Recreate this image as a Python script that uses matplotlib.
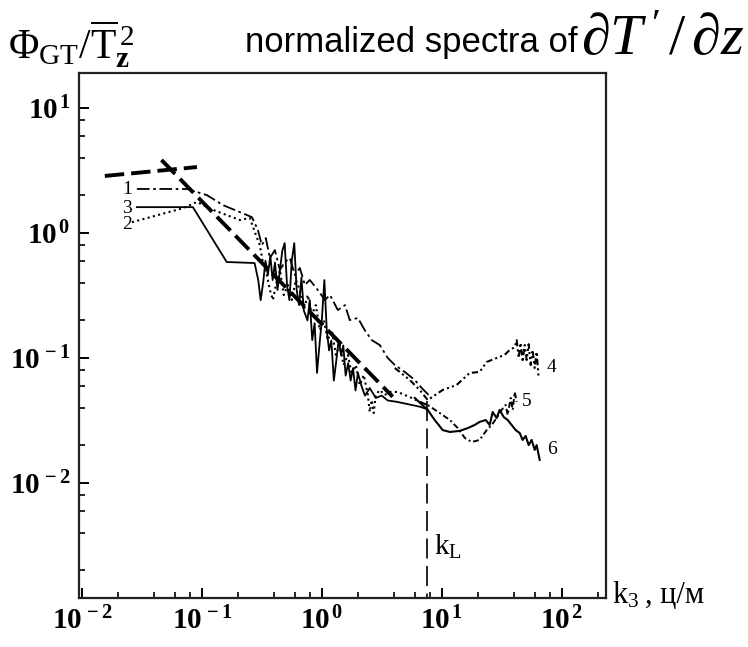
import matplotlib
matplotlib.use("Agg")
import matplotlib.pyplot as plt
from matplotlib.ticker import LogLocator, FixedLocator, FixedFormatter, NullFormatter

plt.rcParams.update({
    'mathtext.fontset': 'custom',
    'mathtext.rm': 'Liberation Serif',
    'mathtext.it': 'Liberation Serif:italic',
    'mathtext.bf': 'Liberation Serif:bold',
    'font.family': ['Liberation Serif', 'DejaVu Serif'],
})

# ---------------- data ----------------
c1_k = [0.0287, 0.075, 0.110, 0.150, 0.207, 0.261, 0.293, 0.316, 0.341, 0.369, 0.406, 0.447,
        0.492, 0.541, 0.596, 0.656, 0.722, 0.794, 0.926, 1.06, 1.17, 1.36, 1.56, 1.71, 2.0,
        2.28, 2.61, 3.04, 3.55, 4.06, 4.92, 5.96, 6.81, 8.25]
c1_phi = [2.25, 2.25, 2.01, 1.67, 1.47, 1.34, 1.06, 0.80, 0.91, 0.63, 0.73, 0.506,
          0.586, 0.63, 0.461, 0.525, 0.384, 0.421, 0.35, 0.291, 0.319, 0.242, 0.265, 0.201, 0.209,
          0.167, 0.139, 0.127, 0.100, 0.0879, 0.0773, 0.0667, 0.0575, 0.0479]

c2_k = [0.0261, 0.0695, 0.0909, 0.124, 0.207, 0.251, 0.282, 0.304, 0.322, 0.341, 0.369, 0.391,
        0.414, 0.447, 0.482, 0.521, 0.562, 0.607, 0.656, 0.708, 0.764, 0.825, 0.891, 0.962,
        1.04, 1.12, 1.21, 1.31, 1.41, 1.52, 1.65, 1.78, 1.92, 2.07, 2.24, 2.42, 2.51, 2.61,
        2.71, 2.82, 3.04, 3.35, 3.69, 4.3, 4.92, 5.62, 6.56, 7.64]
c2_phi = [1.22, 1.58, 1.77, 1.53, 1.27, 1.32, 0.964, 0.80, 0.586, 0.506, 0.35, 0.291,
          0.384, 0.506, 0.319, 0.384, 0.291, 0.421, 0.35, 0.242, 0.319, 0.221, 0.265, 0.167,
          0.201, 0.139, 0.167, 0.106, 0.127, 0.0879, 0.106, 0.0731, 0.0879, 0.0608, 0.0731,
          0.0506, 0.037, 0.0461, 0.0363, 0.0506, 0.0555, 0.0506, 0.0535, 0.0535, 0.0506,
          0.0479, 0.0445, 0.0421]

c3_k = [0.0287, 0.0841, 0.161, 0.275, 0.295, 0.309, 0.324, 0.339, 0.355, 0.372, 0.389, 0.407,
        0.427, 0.447, 0.468, 0.490, 0.513, 0.537, 0.562, 0.589, 0.617, 0.646, 0.676, 0.708,
        0.759, 0.794, 0.832, 0.871, 0.912, 0.955, 1.0, 1.05, 1.10, 1.15, 1.20, 1.26, 1.32,
        1.38, 1.45, 1.51, 1.58, 1.66, 1.74, 1.82, 1.91, 2.0, 2.14, 2.29, 2.51, 2.82, 3.16,
        3.55, 4.17, 5.25, 6.61, 7.59]
c3_phi = [1.61, 1.61, 0.586, 0.575, 0.42, 0.29, 0.40, 0.60, 0.46, 0.66, 0.42, 0.58,
          0.35, 0.50, 0.72, 0.83, 0.38, 0.29, 0.60, 0.83, 0.35, 0.265, 0.44, 0.24,
          0.20, 0.29, 0.139, 0.19, 0.076, 0.126, 0.20, 0.42, 0.166, 0.115, 0.138, 0.066, 0.095,
          0.138, 0.105, 0.126, 0.0724, 0.091, 0.066, 0.083, 0.055, 0.076, 0.060, 0.050, 0.0575,
          0.0479, 0.050, 0.0457, 0.0447, 0.0427, 0.0407, 0.0389]

c4_k = [4.06, 5.41, 6.56, 7.64, 10.2, 13.3, 17.1, 20.7, 23.7, 28.7, 33.5, 36.9, 40.6, 42.2,
        43.8, 45.5, 47.3, 49.2, 51.1, 53.1, 55.2, 57.3, 59.6, 61.9, 64.3]
c4_phi = [0.0832, 0.0667, 0.0555, 0.0461, 0.0555, 0.0608, 0.0759, 0.0773, 0.0929, 0.100,
          0.106, 0.116, 0.122, 0.139, 0.100, 0.132, 0.0929, 0.127, 0.0964, 0.129, 0.0879,
          0.116, 0.0832, 0.112, 0.0692]

c5_k = [6.56, 7.64, 9.62, 11.7, 13.6, 15.6, 17.8, 20.7, 23.7, 26.1, 28.7, 31.6, 34.1, 35.5,
        37.6, 39.1, 40.6, 42.2]
c5_phi = [0.0445, 0.0421, 0.0363, 0.0319, 0.0275, 0.0229, 0.0213, 0.0221, 0.0265, 0.0291,
          0.0331, 0.0384, 0.0421, 0.035, 0.0479, 0.0384, 0.0535, 0.0445]

c6_k = [5.96, 7.64, 8.74, 10.2, 11.7, 14.1, 16.5, 18.8, 20.7, 23.3, 25.1, 26.6, 28.7, 30.4,
        32.9, 35.5, 38.3, 41.4, 44.7, 47.3, 50.1, 53.1, 56.2, 59.6, 61.9, 65.6]
c6_phi = [0.0479, 0.0384, 0.0319, 0.0265, 0.0256, 0.0261, 0.0275, 0.0291, 0.0308, 0.0319,
          0.0291, 0.037, 0.0331, 0.0384, 0.0337, 0.0319, 0.0291, 0.0265, 0.0251, 0.0221,
          0.0238, 0.0201, 0.0221, 0.0184, 0.0201, 0.0153]

fit_flat_k = [0.0155, 0.091]
fit_flat_phi = [2.86, 3.37]
fit_slope_k = [0.046, 3.9]
fit_slope_phi = [3.84, 0.049]
kL_value = 7.6
kL_phi = [0.045, 0.0012]

x_ticks = [1e-2, 1e-1, 1e0, 1e1, 1e2]
x_labels = [r'$\mathbf{10^{\,-2}}$', r'$\mathbf{10^{\,-1}}$', r'$\mathbf{10^{\,0}}$',
            r'$\mathbf{10^{\,1}}$', r'$\mathbf{10^{\,2}}$']
y_ticks = [1e-2, 1e-1, 1e0, 1e1]
y_labels = [r'$\mathbf{10^{\,-2}}$', r'$\mathbf{10^{\,-1}}$', r'$\mathbf{10^{\,0}}$',
            r'$\mathbf{10^{\,1}}$']

# ---------------- figure ----------------
W, H = 748, 647
fig = plt.figure(figsize=(W / 100, H / 100), dpi=100)
ax = fig.add_axes([79 / W, 1 - 598 / H, (606 - 79) / W, (598 - 73) / H])
ax.set_xscale('log')
ax.set_yscale('log')
ax.set_xlim(10 ** -2.025, 10 ** 2.37)
ax.set_ylim(10 ** -2.92, 10 ** 1.28)

lw = 1.3
ax.plot(c1_k, c1_phi, color='black', lw=lw, linestyle=(0, (7, 2, 1.5, 2)))
ax.plot(c2_k, c2_phi, color='black', lw=lw + 0.2, linestyle=(0, (1, 1.6)))
ax.plot(c3_k, c3_phi, color='black', lw=lw, linestyle='-')
ax.plot(c4_k, c4_phi, color='black', lw=lw + 0.2, linestyle=(0, (3, 1.5, 1, 1.5, 1, 1.5)))
ax.plot(c5_k, c5_phi, color='black', lw=lw + 0.1, linestyle=(0, (3, 1.5, 1, 1.5)))
ax.plot(c6_k, c6_phi, color='black', lw=lw + 0.2, linestyle='-')

ax.plot(fit_flat_k, fit_flat_phi, color='black', lw=2.8, linestyle=(0, (5, 1.8)))
ax.plot(fit_slope_k, fit_slope_phi, color='black', lw=2.8, linestyle=(0, (5, 1.8)))
ax.plot([kL_value, kL_value], kL_phi, color='black', lw=1.2, linestyle=(0, (12, 4.5)))

# curve labels
lab = dict(fontsize=14, family='Liberation Serif', ha='center', va='center')
ax.text(0.0237, 2.21, '1', **lab)
ax.text(0.0237, 1.58, '3', **lab)
ax.text(0.0237, 1.16, '2', **lab)
ax.text(82.6, 0.0832, '4', **lab)
ax.text(51.1, 0.0445, '5', **lab)
ax.text(82.6, 0.0184, '6', **lab)
ax.text(8.6, 0.00308, r'$\mathrm{k}_{\mathrm{L}}$', fontsize=21, ha='left', va='center')

# ticks
ax.xaxis.set_major_locator(FixedLocator(x_ticks))
ax.xaxis.set_major_formatter(FixedFormatter(x_labels))
ax.yaxis.set_major_locator(FixedLocator(y_ticks))
ax.yaxis.set_major_formatter(FixedFormatter(y_labels))
ax.xaxis.set_minor_locator(LogLocator(base=10, subs=[2, 4, 6, 8]))
ax.yaxis.set_minor_locator(LogLocator(base=10, subs=[2, 4, 6, 8]))
ax.xaxis.set_minor_formatter(NullFormatter())
ax.yaxis.set_minor_formatter(NullFormatter())
ax.tick_params(which='both', direction='in', top=False, right=False, color='black')
ax.tick_params(which='major', length=7, width=1.4, labelsize=21, pad=6)
ax.tick_params(which='minor', length=4.3, width=1.2)
for s in ax.spines.values():
    s.set_linewidth(1.6)
    s.set_color('#222222')

# texts around the axes
fig.text(8 / W, 1 - 59 / H, r'$\Phi_{\mathrm{GT}}/\overline{\mathrm{T}}_{\mathbf{z}}^{\,2}$',
         fontsize=30, ha='left', va='baseline')
fig.text(245 / W, 1 - 52 / H, 'normalized spectra of', family='Liberation Sans',
         fontsize=25, ha='left', va='baseline')
fig.text(581 / W, 1 - 55 / H, r"$\partial T^{\,\prime}\,/\,\partial z$", fontsize=42,
         ha='left', va='baseline')
fig.text(612 / W, 1 - 603 / H, r'$\mathrm{k}_{3}$', fontsize=22, ha='left', va='baseline')
fig.text(645 / W, 1 - 603 / H, ', ц/м', fontsize=22, ha='left', va='baseline',
         family='Liberation Serif')

fig.savefig('out.png', dpi=100)
